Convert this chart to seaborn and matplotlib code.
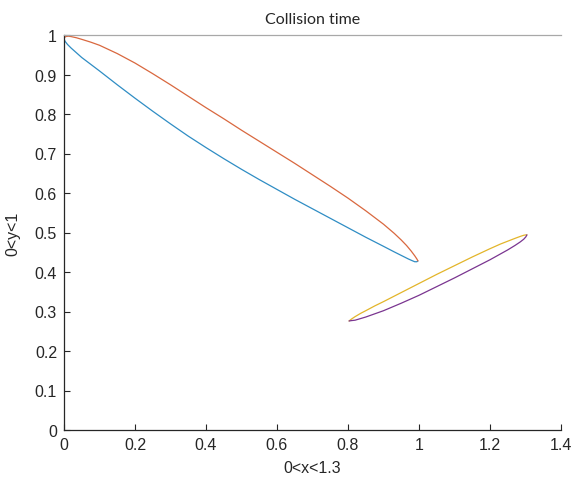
import matplotlib
matplotlib.use("Agg")
import matplotlib.pyplot as plt
import seaborn as sns
import pandas as pd

# Curve 1 (blue, lower branch of the first loop)
blue_x = [0.0, 0.003, 0.01, 0.02, 0.035, 0.05, 0.075, 0.1, 0.15, 0.2, 0.25, 0.3, 0.35, 0.4, 0.45, 0.5,
          0.55, 0.6, 0.65, 0.7, 0.75, 0.8, 0.85, 0.9, 0.93, 0.95, 0.97, 0.98, 0.988, 0.994, 0.997]
blue_y = [0.99, 0.984, 0.976, 0.967, 0.955, 0.943, 0.926, 0.909, 0.874, 0.84, 0.807, 0.775, 0.744, 0.715,
          0.687, 0.66, 0.634, 0.609, 0.584, 0.56, 0.536, 0.512, 0.488, 0.465, 0.451, 0.442, 0.433, 0.429,
          0.426, 0.426, 0.428]
# Curve 2 (orange, upper branch of the first loop)
orange_x = [0.0, 0.005, 0.012, 0.02, 0.035, 0.05, 0.075, 0.1, 0.15, 0.2, 0.25, 0.3, 0.35, 0.4, 0.45, 0.5,
            0.55, 0.6, 0.65, 0.7, 0.75, 0.8, 0.85, 0.9, 0.93, 0.95, 0.965, 0.978, 0.988, 0.994, 0.997]
orange_y = [0.993, 0.996, 0.997, 0.996, 0.993, 0.989, 0.982, 0.974, 0.953, 0.929, 0.902, 0.874, 0.845, 0.816,
            0.788, 0.759, 0.731, 0.703, 0.675, 0.646, 0.617, 0.587, 0.555, 0.521, 0.498, 0.481, 0.467, 0.453,
            0.441, 0.433, 0.428]
# Curve 3 (yellow, upper branch of the second loop)
yellow_x = [0.803, 0.81, 0.82, 0.835, 0.85, 0.875, 0.9, 0.95, 1.0, 1.05, 1.1, 1.15, 1.2, 1.23, 1.25, 1.27,
            1.285, 1.295, 1.301, 1.304]
yellow_y = [0.276, 0.281, 0.287, 0.295, 0.302, 0.314, 0.325, 0.348, 0.371, 0.394, 0.416, 0.438, 0.459,
            0.471, 0.478, 0.485, 0.49, 0.493, 0.494, 0.494]
# Curve 4 (purple, lower branch of the second loop)
purple_x = [0.803, 0.81, 0.82, 0.835, 0.85, 0.875, 0.9, 0.95, 1.0, 1.05, 1.1, 1.15, 1.2, 1.23, 1.25, 1.27,
            1.285, 1.295, 1.301, 1.304]
purple_y = [0.276, 0.277, 0.278, 0.282, 0.286, 0.294, 0.302, 0.321, 0.341, 0.363, 0.385, 0.408, 0.431,
            0.446, 0.456, 0.467, 0.476, 0.483, 0.489, 0.494]

x_ticks = [0, 0.2, 0.4, 0.6, 0.8, 1, 1.2, 1.4]
y_ticks = [0, 0.1, 0.2, 0.3, 0.4, 0.5, 0.6, 0.7, 0.8, 0.9, 1]

sns.set_theme(style="white")
plt.rcParams['font.family'] = ['Liberation Sans', 'DejaVu Sans']

fig = plt.figure(figsize=(5.74, 4.85), dpi=100)
ax = fig.add_axes([64/574, 1-431/485, (561-64)/574, (431-36)/485])

series = [
    (blue_x, blue_y, "#2f8dc4"),
    (orange_x, orange_y, "#d9683f"),
    (yellow_x, yellow_y, "#e3b52a"),
    (purple_x, purple_y, "#7a3590"),
]
for xs, ys, c in series:
    df = pd.DataFrame({"x": xs, "y": ys})
    sns.lineplot(data=df, x="x", y="y", sort=False, estimator=None,
                 color=c, linewidth=0.9, ax=ax)

ax.set_xlim(0, 1.4)
ax.set_ylim(0, 1)
ax.set_xticks(x_ticks)
ax.set_yticks(y_ticks)
ax.set_xticklabels([f"{t:g}" for t in x_ticks])
ax.set_yticklabels([f"{t:g}" for t in y_ticks])
ax.tick_params(bottom=True, left=True, top=False, right=False,
               direction="in", length=4, width=0.8, colors="#262626",
               labelsize=11.5, pad=5)
for s in ["left", "bottom"]:
    ax.spines[s].set_color("#262626")
    ax.spines[s].set_linewidth(0.9)
ax.spines["right"].set_visible(False)
ax.spines["top"].set_color("#a8a8a8")
ax.spines["top"].set_linewidth(0.9)

ax.set_xlabel("0<x<1.3", fontsize=11.5, color="#262626", labelpad=6)
ax.set_ylabel("0<y<1", fontsize=11.5, color="#262626", labelpad=10)
ax.set_title("Collision time", fontsize=11.5, color="#262626", pad=9,
             family=["Lato", "DejaVu Sans"])

fig.savefig("out.png", dpi=100, facecolor="white")
